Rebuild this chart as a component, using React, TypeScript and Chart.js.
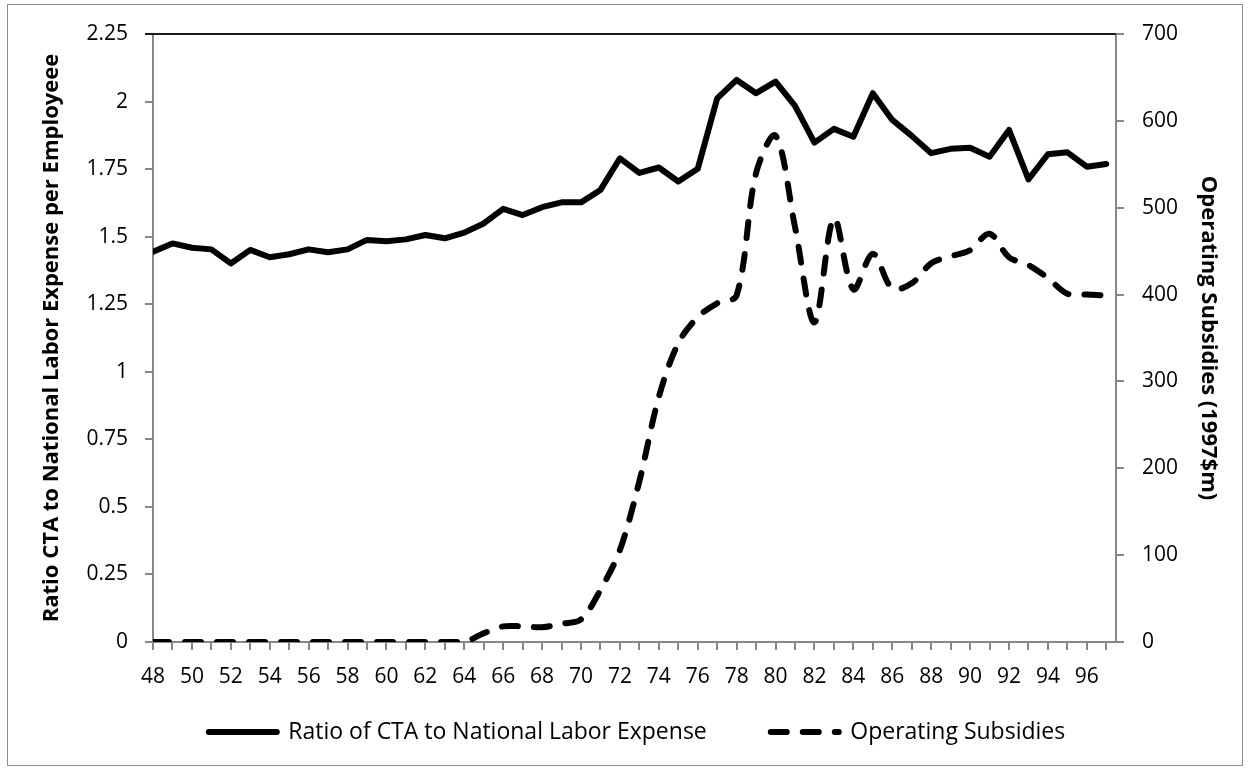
import React, { useEffect, useRef } from "react";
import { Chart, registerables } from "chart.js";

Chart.register(...registerables);

const years = [
  48, 49, 50, 51, 52, 53, 54, 55, 56, 57, 58, 59, 60, 61, 62, 63, 64, 65, 66, 67,
  68, 69, 70, 71, 72, 73, 74, 75, 76, 77, 78, 79, 80, 81, 82, 83, 84, 85, 86, 87,
  88, 89, 90, 91, 92, 93, 94, 95, 96, 97,
];

const ratioValues = [
  1.444, 1.475, 1.459, 1.453, 1.401, 1.451, 1.424, 1.435, 1.453, 1.442,
  1.453, 1.488, 1.483, 1.49, 1.506, 1.494, 1.515, 1.549, 1.603, 1.58,
  1.609, 1.627, 1.627, 1.673, 1.79, 1.736, 1.756, 1.704, 1.751, 2.012,
  2.08, 2.031, 2.074, 1.984, 1.848, 1.899, 1.87, 2.031, 1.932, 1.873,
  1.809, 1.825, 1.829, 1.796, 1.895, 1.712, 1.805, 1.812, 1.759, 1.769,
];

const subsidyValues = [
  0, 0, 0, 0, 0, 0, 0, 0, 0, 0,
  0, 0, 0, 0, 0, 0, 0, 10, 18, 18,
  17, 21, 26, 60, 106, 185, 282, 344, 374, 390,
  399, 540, 583, 478, 368, 488, 406, 447, 407, 413,
  436, 444, 451, 470, 443, 434, 419, 401, 400, 399,
];

const xTickLabels = [
  48, 50, 52, 54, 56, 58, 60, 62, 64, 66, 68, 70, 72, 74, 76, 78, 80, 82, 84,
  86, 88, 90, 92, 94, 96,
];

const seriesNames = ["Ratio of CTA to National Labor Expense", "Operating Subsidies"];
const leftTitle = "Ratio CTA to National Labor Expense per Employeee";
const rightTitle = "Operating Subsidies (1997$m)";

const FONT = "'Open Sans', Lato, sans-serif";
const FONT_SIZE = 21;
const LEGEND_FONT_SIZE = 23;
const TITLE_FONT_SIZE = 22;
const AXIS_GRAY = "#878787";
const PAD_LEFT = 24;
const LEGEND_PAD = 64;

export default function App() {
  const ref = useRef<HTMLCanvasElement | null>(null);

  useEffect(() => {
    if (!ref.current) return;
    Chart.defaults.font.family = FONT;
    Chart.defaults.font.size = FONT_SIZE;
    Chart.defaults.color = "#000";

    const helpers = {
      id: "helpers",
      afterLayout(chart: any) {
        const lg = chart.legend;
        if (lg) {
          lg.top = 732 - LEGEND_PAD - LEGEND_FONT_SIZE / 2;
          lg.bottom = 768;
          lg.height = lg.bottom - lg.top;
        }
      },
      afterDatasetsDraw(chart: any) {
        const { ctx, chartArea } = chart;
        ctx.save();
        ctx.strokeStyle = "#1a1a1a";
        ctx.lineWidth = 2;
        ctx.beginPath();
        ctx.moveTo(chartArea.left - 8, chartArea.top);
        ctx.lineTo(chartArea.right, chartArea.top);
        ctx.stroke();
        ctx.restore();
      },
    };

    const fmt = (v: any) => String(parseFloat(Number(v).toFixed(2)));

    const chart = new Chart(ref.current, {
      type: "line",
      data: {
        datasets: [
          {
            label: seriesNames[0],
            data: years.map((y, i) => ({ x: y, y: ratioValues[i] })),
            yAxisID: "y",
            borderColor: "#000",
            backgroundColor: "#000",
            borderWidth: 6,
            pointRadius: 0,
            pointStyle: "line",
            tension: 0,
            borderCapStyle: "round",
            borderJoinStyle: "round",
          },
          {
            label: seriesNames[1],
            data: years.map((y, i) => ({ x: y, y: subsidyValues[i] })),
            yAxisID: "y1",
            borderColor: "#000",
            backgroundColor: "#000",
            borderWidth: 6,
            borderDash: [16, 16],
            pointRadius: 0,
            pointStyle: "line",
            tension: 0.33,
            borderCapStyle: "round",
            borderJoinStyle: "round",
          },
        ],
      },
      options: {
        responsive: false,
        animation: false,
        layout: { padding: { left: PAD_LEFT, right: 0, top: 34, bottom: 18 } },
        plugins: {
          legend: {
            position: "bottom",
            maxHeight: 60,
            labels: {
              usePointStyle: true,
              pointStyleWidth: 68,
              padding: LEGEND_PAD,
              color: "#000",
              font: { family: FONT, size: LEGEND_FONT_SIZE },
              generateLabels: (c: any) => {
                const items = (Chart as any).defaults.plugins.legend.labels.generateLabels(c);
                items.forEach((it: any, i: number) => {
                  const ds: any = c.data.datasets[i];
                  it.lineDash = ds.borderDash || [];
                  it.lineWidth = 6;
                  it.lineCap = "round";
                  it.strokeStyle = "#000";
                  it.fillStyle = "#000";
                  it.pointStyle = "line";
                });
                return items;
              },
            },
          },
          tooltip: { enabled: false },
        },
        scales: {
          x: {
            type: "linear",
            min: 48,
            max: 97.5,
            afterBuildTicks: (s: any) => {
              s.ticks = years.map((v) => ({ value: v }));
            },
            afterFit: (s: any) => {
              s.height = 50;
            },
            ticks: {
              autoSkip: false,
              maxRotation: 0,
              padding: 14,
              color: "#000",
              font: { family: FONT, size: FONT_SIZE },
              callback: (v: any) => (xTickLabels.includes(Number(v)) ? String(v) : ""),
            },
            grid: { drawOnChartArea: false, drawTicks: true, tickLength: 8, color: AXIS_GRAY, lineWidth: 2 },
            border: { color: AXIS_GRAY, width: 2 },
          },
          y: {
            position: "left",
            min: 0,
            max: 2.25,
            afterFit: (s: any) => {
              s.width = 153 - PAD_LEFT;
            },
            ticks: { stepSize: 0.25, padding: 17, color: "#000", font: { family: FONT, size: FONT_SIZE }, callback: fmt },
            grid: { drawOnChartArea: false, drawTicks: true, tickLength: 8, color: AXIS_GRAY, lineWidth: 2 },
            border: { color: AXIS_GRAY, width: 2 },
            title: {
              display: true,
              text: leftTitle,
              color: "#000",
              font: { family: FONT, size: TITLE_FONT_SIZE, weight: "bold" },
              padding: { top: 15, bottom: 0 },
            },
          },
          y1: {
            position: "right",
            min: 0,
            max: 700,
            afterFit: (s: any) => {
              s.width = 134;
            },
            ticks: { stepSize: 100, padding: 18, color: "#000", font: { family: FONT, size: FONT_SIZE }, callback: fmt },
            grid: { drawOnChartArea: false, drawTicks: true, tickLength: 8, color: AXIS_GRAY, lineWidth: 2 },
            border: { color: AXIS_GRAY, width: 2 },
            title: {
              display: true,
              text: rightTitle,
              color: "#000",
              font: { family: FONT, size: TITLE_FONT_SIZE, weight: "bold" },
              padding: { top: 29, bottom: 0 },
            },
          },
        },
      },
      plugins: [helpers],
    } as any);

    return () => chart.destroy();
  }, []);

  return (
    <div style={{ position: "absolute", left: 0, top: 0, width: 1250, height: 770, background: "#fff" }}>
      <canvas ref={ref} width={1250} height={770} style={{ display: "block" }} />
      <div
        style={{
          position: "absolute",
          left: 7,
          top: 4,
          width: 1236,
          height: 762,
          border: "1px solid #8c8c8c",
          boxSizing: "border-box",
          pointerEvents: "none",
        }}
      />
    </div>
  );
}
